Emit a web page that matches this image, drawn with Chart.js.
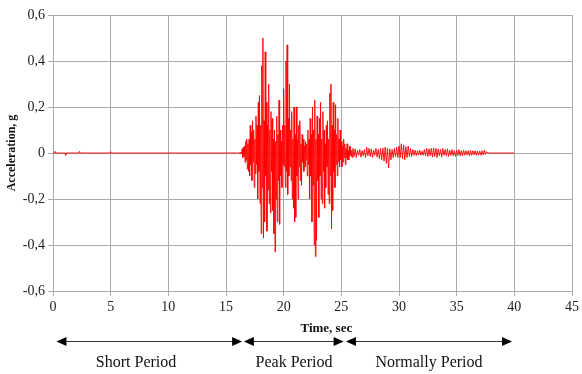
<!DOCTYPE html>
<html>
<head>
<meta charset="utf-8">
<script src="https://cdn.jsdelivr.net/npm/chart.js@4.4.1/dist/chart.umd.min.js"></script>
<style>
  html, body { margin: 0; padding: 0; background: #fff; }
  #wrap { width: 582px; height: 374px; }
</style>
</head>
<body>
<div id="wrap"><canvas id="accelChart" width="582" height="374"></canvas></div>
<script>
// quiet part before the event (sec, g)
const preTimes = [0, 0.12, 0.17, 0.22, 1.05, 1.1, 1.15, 2.25, 2.3, 2.35, 4.95, 5.0, 5.05];
const preAccel = [0, 0, 0.007, 0, 0, -0.01, 0, 0, 0.007, 0, 0, 0.006, 0];

// strong motion, sampled every 0.05 s from 16.0 s (one row = one second)
const strongStart = 16.0;
const strongStep = 0.05;
const strongAccel = [
  0, 0, 0, 0, 0.002, -0.003, 0.004, -0.004, 0.018, -0.02, 0.025, -0.015, 0.03, -0.04, 0.05, -0.03, 0.06, -0.07, 0.04, -0.08,
  0.06, -0.1, 0.12, -0.05, 0.09, -0.12, 0.14, -0.04, 0.1, -0.15, 0.06, -0.09, 0.16, -0.05, 0.12, -0.2, 0.22, -0.08, 0.25, -0.22,
  0.12, -0.35, 0.38, -0.15, 0.5, -0.37, 0.14, -0.3, 0.44, -0.1, 0.22, -0.34, 0.12, -0.16, 0.3, -0.22, 0.1, -0.26, 0.18, -0.08,
  0.15, -0.25, 0.06, -0.35, 0.1, -0.43, 0.05, -0.2, 0.16, -0.3, 0.08, -0.12, 0.23, -0.31, 0.1, -0.1, 0.05, -0.15, 0.12, -0.05,
  0.28, -0.06, 0.12, -0.15, 0.4, -0.08, 0.47, -0.18, 0.15, -0.1, 0.3, -0.06, 0.1, -0.12, 0.18, -0.2, 0.06, -0.24, 0.2, -0.3,
  0.08, -0.28, 0.2, -0.1, 0.06, -0.2, 0.12, -0.06, 0.14, -0.12, 0.04, -0.14, 0.08, -0.04, 0.06, -0.08, 0.03, -0.06, 0.05, -0.03,
  0.04, -0.1, 0.1, -0.05, 0.06, -0.2, 0.15, -0.1, 0.08, -0.3, 0.2, -0.14, 0.1, -0.4, 0.23, -0.45, 0.06, -0.38, 0.16, -0.12,
  0.08, -0.28, 0.15, -0.1, 0.22, -0.2, 0.06, -0.22, 0.18, -0.08, 0.1, -0.24, 0.04, -0.15, 0.12, -0.06, 0.14, -0.18, 0.06, -0.22,
  0.26, -0.1, 0.3, -0.33, 0.12, -0.25, 0.22, -0.08, 0.1, -0.15, 0.21, -0.05, 0.08, -0.1, 0.15, -0.04, 0.06, -0.06, 0.1, -0.03,
  0.05, -0.06, 0.03, -0.04, 0.06, -0.02, 0.04, -0.05, 0.02, -0.02, 0.04, -0.03, 0.01, -0.03, 0.03, -0.01, 0.025, -0.015, 0.01, -0.02
];

// coda, sampled every 0.1 s from 26.0 s
const tailStart = 26.0;
const tailStep = 0.1;
const tailAccel = [
  0.02, -0.015, 0.018, -0.02, 0.012, -0.01, 0.015, -0.018, 0.01, -0.012,
  0.015, -0.02, 0.025, -0.012, 0.02, -0.015, 0.018, -0.02, 0.012, -0.01,
  0.02, -0.018, 0.015, -0.025, 0.02, -0.03, 0.022, -0.035, 0.025, -0.045,
  0.02, -0.065, 0.018, -0.03, 0.015, -0.02, 0.02, -0.015, 0.025, -0.02,
  0.03, -0.02, 0.04, -0.025, 0.035, -0.03, 0.028, -0.02, 0.03, -0.015,
  0.02, -0.015, 0.015, -0.01, 0.012, -0.012, 0.01, -0.008, 0.012, -0.01,
  0.008, -0.01, 0.015, -0.012, 0.02, -0.015, 0.018, -0.012, 0.02, -0.018,
  0.022, -0.015, 0.02, -0.02, 0.018, -0.012, 0.015, -0.018, 0.02, -0.01,
  0.015, -0.012, 0.018, -0.015, 0.012, -0.01, 0.015, -0.012, 0.01, -0.015,
  0.012, -0.01, 0.015, -0.012, 0.01, -0.012, 0.012, -0.01, 0.01, -0.008,
  0.01, -0.012, 0.012, -0.01, 0.01, -0.008, 0.01, -0.01, 0.008, -0.01,
  0.008, -0.01, 0.01, -0.008, 0.012, -0.006, 0.006, 0, 0, 0
];

const endTimes = [40];
const endAccel = [0];

// annotation under the axis
const periodNames = ['Short Period', 'Peak Period', 'Normally Period'];
const periodFrom = [0.3, 16.55, 25.4];
const periodTo = [16.4, 25.2, 39.8];
const periodLabelAt = [7.2, 20.9, 32.6];

const points = [];
preTimes.forEach((t, i) => points.push({ x: t, y: preAccel[i] }));
strongAccel.forEach((a, i) => points.push({ x: strongStart + i * strongStep, y: a }));
tailAccel.forEach((a, i) => points.push({ x: tailStart + i * tailStep, y: a }));
endTimes.forEach((t, i) => points.push({ x: t, y: endAccel[i] }));

const serif = "'Liberation Serif', 'Times New Roman', serif";
const gridGray = 'rgb(170, 170, 170)';

function arrowHead(c, x, y, dir) {
  c.beginPath();
  c.moveTo(x, y);
  c.lineTo(x - dir * 10, y - 4.5);
  c.lineTo(x - dir * 10, y + 4.5);
  c.closePath();
  c.fill();
}

const periodsPlugin = {
  id: 'periods',
  afterDraw(chart) {
    const c = chart.ctx;
    const xs = chart.scales.x;
    const bottom = chart.chartArea.bottom;
    c.save();
    c.fillStyle = '#111';
    c.textAlign = 'center';
    c.textBaseline = 'middle';
    c.font = 'bold 13px ' + serif;
    c.fillText('Time, sec', xs.getPixelForValue(23.7), bottom + 38);

    const ay = bottom + 50;
    c.strokeStyle = '#333';
    c.lineWidth = 1;
    c.font = '16px ' + serif;
    periodNames.forEach((name, i) => {
      const x1 = xs.getPixelForValue(periodFrom[i]);
      const x2 = xs.getPixelForValue(periodTo[i]);
      c.beginPath();
      c.moveTo(x1 + 4, ay + 0.5);
      c.lineTo(x2 - 4, ay + 0.5);
      c.stroke();
      c.fillStyle = '#000';
      arrowHead(c, x1, ay + 0.5, -1);
      arrowHead(c, x2, ay + 0.5, 1);
      c.fillStyle = '#111';
      c.fillText(name, xs.getPixelForValue(periodLabelAt[i]), bottom + 72);
    });
    c.restore();
  }
};

new Chart(document.getElementById('accelChart'), {
  type: 'line',
  data: {
    datasets: [{
      label: 'Acceleration',
      data: points,
      borderColor: 'rgb(255, 0, 0)',
      borderWidth: 0.9,
      pointRadius: 0,
      tension: 0,
      fill: false
    }]
  },
  options: {
    responsive: false,
    animation: false,
    layout: { padding: { left: 0, right: 7, top: 15, bottom: 0 } },
    plugins: {
      legend: { display: false },
      tooltip: { enabled: false }
    },
    scales: {
      x: {
        type: 'linear',
        min: 0,
        max: 45,
        afterFit(scale) { scale.height = 83; },
        ticks: {
          stepSize: 5,
          color: '#222',
          padding: 3,
          maxRotation: 0,
          font: { family: serif, size: 14 }
        },
        grid: { color: gridGray, tickLength: 5 },
        border: { color: gridGray }
      },
      y: {
        min: -0.6,
        max: 0.6,
        afterFit(scale) { scale.width = 53; },
        ticks: {
          stepSize: 0.2,
          color: '#222',
          padding: 3,
          font: { family: serif, size: 14 },
          callback(value) {
            const v = Math.round(value * 10) / 10;
            return v === 0 ? '0' : v.toFixed(1).replace('.', ',');
          }
        },
        grid: { color: gridGray, tickLength: 5 },
        border: { color: gridGray },
        title: {
          display: true,
          text: 'Acceleration, g',
          color: '#111',
          padding: { top: 5, bottom: 2 },
          font: { family: serif, size: 12, weight: 'bold' }
        }
      }
    }
  },
  plugins: [periodsPlugin]
});
</script>
</body>
</html>
